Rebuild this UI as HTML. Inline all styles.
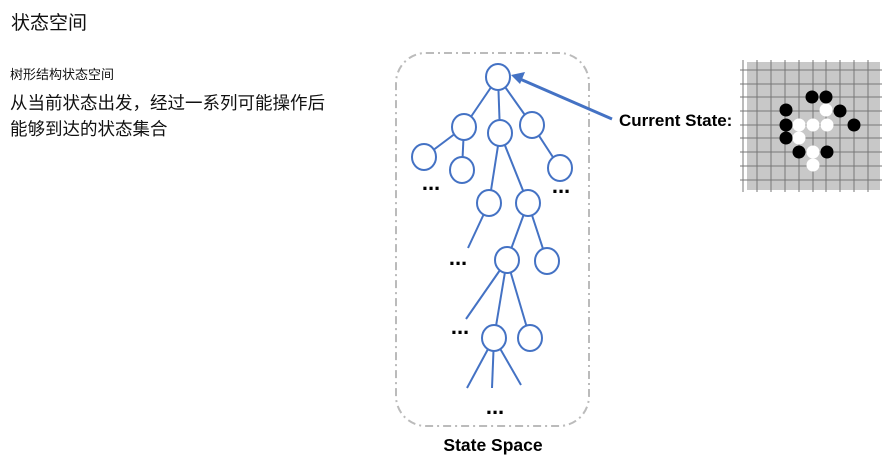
<!DOCTYPE html>
<html><head><meta charset="utf-8"><style>
body{margin:0;width:893px;height:457px;background:#fff;overflow:hidden;position:relative;font-family:"Liberation Sans","Noto Sans CJK SC",sans-serif}
.t{position:absolute;color:#111;white-space:nowrap}
</style></head><body>
<div class="t" style="left:11px;top:12px;font-size:19px;line-height:24px">状态空间</div>
<div class="t" style="left:10px;top:66px;font-size:13px;line-height:18px">树形结构状态空间</div>
<div class="t" style="left:10px;top:90px;font-size:17.5px;line-height:26px">从当前状态出发，经过一系列可能操作后<br>能够到达的状态集合</div>
<svg width="893" height="457" style="position:absolute;left:0;top:0">
<rect x="396" y="53" width="193" height="373" rx="30" fill="none" stroke="#bbb" stroke-width="2" stroke-dasharray="8,4,2,4"/>
<g stroke="#4472c4" stroke-width="2" fill="none">
<line x1="498" y1="77" x2="464" y2="127"/><line x1="498" y1="77" x2="500" y2="133"/><line x1="498" y1="77" x2="532" y2="125"/>
<line x1="464" y1="127" x2="424" y2="157"/><line x1="464" y1="127" x2="462" y2="170"/>
<line x1="532" y1="125" x2="560" y2="168"/>
<line x1="500" y1="133" x2="489" y2="203"/><line x1="500" y1="133" x2="528" y2="203"/>
<line x1="489" y1="203" x2="468" y2="248"/>
<line x1="528" y1="203" x2="507" y2="260"/><line x1="528" y1="203" x2="547" y2="261"/>
<line x1="507" y1="260" x2="466" y2="319"/><line x1="507" y1="260" x2="494" y2="338"/><line x1="507" y1="260" x2="530" y2="338"/>
<line x1="494" y1="338" x2="467" y2="388"/><line x1="494" y1="338" x2="492" y2="388"/><line x1="494" y1="338" x2="521" y2="385"/>
</g>
<g stroke="#4472c4" stroke-width="2" fill="#fff">
<ellipse cx="498" cy="77" rx="12" ry="13"/><ellipse cx="464" cy="127" rx="12" ry="13"/><ellipse cx="500" cy="133" rx="12" ry="13"/><ellipse cx="532" cy="125" rx="12" ry="13"/>
<ellipse cx="424" cy="157" rx="12" ry="13"/><ellipse cx="462" cy="170" rx="12" ry="13"/><ellipse cx="560" cy="168" rx="12" ry="13"/>
<ellipse cx="489" cy="203" rx="12" ry="13"/><ellipse cx="528" cy="203" rx="12" ry="13"/>
<ellipse cx="507" cy="260" rx="12" ry="13"/><ellipse cx="547" cy="261" rx="12" ry="13"/>
<ellipse cx="494" cy="338" rx="12" ry="13"/><ellipse cx="530" cy="338" rx="12" ry="13"/>
</g>
<g font-family="Liberation Sans" font-weight="bold" font-size="22" fill="#000" text-anchor="middle">
<text x="431" y="190">...</text><text x="561" y="193">...</text><text x="458" y="265">...</text><text x="460" y="334">...</text><text x="495" y="414">...</text>
</g>
<line x1="612" y1="119" x2="520" y2="79" stroke="#4472c4" stroke-width="3"/>
<polygon points="511,75 525,72 520,84" fill="#4472c4"/>
<text x="619" y="126" font-family="Liberation Sans" font-weight="bold" font-size="17">Current State:</text>
<text x="493" y="451" font-family="Liberation Sans" font-weight="bold" font-size="17.5" text-anchor="middle">State Space</text>
<rect x="747" y="62" width="133" height="128" fill="#c8c8c8"/>
<g stroke="#777" stroke-width="1">
<line x1="743" y1="60" x2="743" y2="192"/><line x1="757" y1="60" x2="757" y2="192"/><line x1="771" y1="60" x2="771" y2="192"/><line x1="785" y1="60" x2="785" y2="192"/><line x1="799" y1="60" x2="799" y2="192"/><line x1="813" y1="60" x2="813" y2="192"/><line x1="826" y1="60" x2="826" y2="192"/><line x1="840" y1="60" x2="840" y2="192"/><line x1="854" y1="60" x2="854" y2="192"/><line x1="868" y1="60" x2="868" y2="192"/>
<line x1="740" y1="70" x2="882" y2="70"/><line x1="740" y1="84" x2="882" y2="84"/><line x1="740" y1="97" x2="882" y2="97"/><line x1="740" y1="111" x2="882" y2="111"/><line x1="740" y1="125" x2="882" y2="125"/><line x1="740" y1="138" x2="882" y2="138"/><line x1="740" y1="152" x2="882" y2="152"/><line x1="740" y1="166" x2="882" y2="166"/><line x1="740" y1="180" x2="882" y2="180"/>
</g>
<g fill="#000">
<circle cx="812" cy="97" r="6.5"/><circle cx="826" cy="97" r="6.5"/><circle cx="786" cy="110" r="6.5"/><circle cx="840" cy="111" r="6.5"/><circle cx="786" cy="125" r="6.5"/><circle cx="854" cy="125" r="6.5"/><circle cx="786" cy="138" r="6.5"/><circle cx="799" cy="152" r="6.5"/><circle cx="827" cy="152" r="6.5"/>
</g>
<g fill="#fff">
<circle cx="826" cy="110" r="6.5"/><circle cx="799" cy="125" r="6.5"/><circle cx="813" cy="125" r="6.5"/><circle cx="827" cy="125" r="6.5"/><circle cx="799" cy="138" r="6.5"/><circle cx="813" cy="152" r="6.5"/><circle cx="813" cy="165" r="6.5"/>
</g>
</svg>
</body></html>
